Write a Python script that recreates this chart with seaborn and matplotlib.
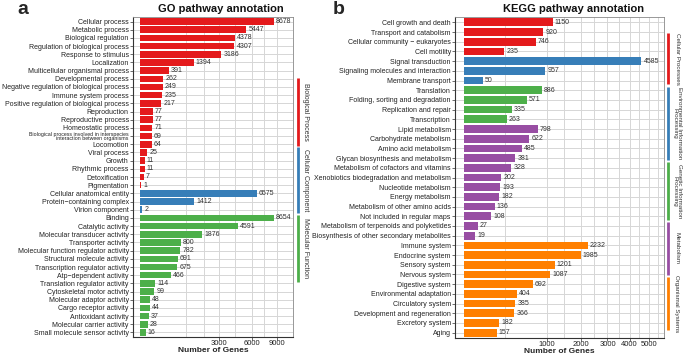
import numpy as np
import pandas as pd
import matplotlib
matplotlib.use("Agg")
import matplotlib.pyplot as plt
import seaborn as sns
from matplotlib.lines import Line2D
from matplotlib.ticker import FixedLocator

# GO annotation
go_bp_terms = ["Cellular process", "Metabolic process", "Biological regulation",
               "Regulation of biological process", "Response to stimulus", "Localization",
               "Multicellular organismal process", "Developmental process",
               "Negative regulation of biological process", "Immune system process",
               "Positive regulation of biological process", "Reproduction",
               "Reproductive process", "Homeostatic process",
               "Biological process involved in interspecies\ninteraction between organisms",
               "Locomotion", "Viral process", "Growth", "Rhythmic process",
               "Detoxification", "Pigmentation"]
go_bp_counts = [8678, 5447, 4378, 4307, 3186, 1394, 391, 262, 249, 235, 217,
                77, 77, 71, 69, 64, 25, 11, 11, 7, 1]
go_cc_terms = ["Cellular anatomical entity", "Protein\u2212containing complex", "Virion component"]
go_cc_counts = [6575, 1412, 2]
go_mf_terms = ["Binding", "Catalytic activity", "Molecular transducer activity",
               "Transporter activity", "Molecular function regulator activity",
               "Structural molecule activity", "Transcription regulator activity",
               "Atp\u2212dependent activity", "Translation regulator activity",
               "Cytoskeletal motor activity", "Molecular adaptor activity",
               "Cargo receptor activity", "Antioxidant activity",
               "Molecular carrier activity", "Small molecule sensor activity"]
go_mf_counts = [8654, 4591, 1876, 800, 782, 691, 675, 466, 114, 99, 48, 44, 37, 28, 16]
go_groups = ["Biological Process", "Cellular Component", "Molecular Function"]

# KEGG annotation
kegg_cp_terms = ["Cell growth and death", "Transport and catabolism",
                 "Cellular community \u2212 eukaryotes", "Cell motility"]
kegg_cp_counts = [1150, 920, 746, 235]
kegg_eip_terms = ["Signal transduction", "Signaling molecules and interaction", "Membrane transport"]
kegg_eip_counts = [4585, 957, 50]
kegg_gip_terms = ["Translation", "Folding, sorting and degradation",
                  "Replication and repair", "Transcription"]
kegg_gip_counts = [886, 571, 335, 263]
kegg_met_terms = ["Lipid metabolism", "Carbohydrate metabolism", "Amino acid metabolism",
                  "Glycan biosynthesis and metabolism", "Metabolism of cofactors and vitamins",
                  "Xenobiotics biodegradation and metabolism", "Nucleotide metabolism",
                  "Energy metabolism", "Metabolism of other amino acids",
                  "Not included in regular maps", "Metabolism of terpenoids and polyketides",
                  "Biosynthesis of other secondary metabolites"]
kegg_met_counts = [798, 622, 485, 381, 328, 202, 193, 182, 136, 108, 27, 19]
kegg_os_terms = ["Immune system", "Endocrine system", "Sensory system", "Nervous system",
                 "Digestive system", "Environmental adaptation", "Circulatory system",
                 "Development and regeneration", "Excretory system", "Aging"]
kegg_os_counts = [2232, 1985, 1201, 1087, 692, 404, 385, 366, 182, 157]
kegg_groups = ["Cellular Processes", "Environmental Information\nProcessing",
               "Genetic Information\nProcessing", "Metabolism", "Organismal Systems"]

go_colors = ["#E41A1C", "#377EB8", "#4DAF4A"]
kegg_colors = ["#E41A1C", "#377EB8", "#4DAF4A", "#984EA3", "#FF7F00"]


def build(terms_list, counts_list, groups):
    frames = []
    for terms, counts, g in zip(terms_list, counts_list, groups):
        frames.append(pd.DataFrame({"term": terms, "count": counts, "group": g}))
    return pd.concat(frames, ignore_index=True)


go_df = build([go_bp_terms, go_cc_terms, go_mf_terms],
              [go_bp_counts, go_cc_counts, go_mf_counts], go_groups)
kegg_df = build([kegg_cp_terms, kegg_eip_terms, kegg_gip_terms, kegg_met_terms, kegg_os_terms],
                [kegg_cp_counts, kegg_eip_counts, kegg_gip_counts, kegg_met_counts, kegg_os_counts],
                kegg_groups)


def ssqrt(x):
    return np.sign(x) * np.sqrt(np.abs(x))


def ssq(x):
    return np.sign(x) * np.square(x)


def mid(a, b):
    return ((np.sqrt(a) + np.sqrt(b)) / 2) ** 2


sns.set_theme(style="white")
plt.rcParams["font.family"] = ["Liberation Sans", "DejaVu Sans"]

W, H = 685, 357
fig = plt.figure(figsize=(W / 100, H / 100), dpi=100)


def px_ax(x0, x1, y0, y1):
    return fig.add_axes([x0 / W, 1 - y1 / H, (x1 - x0) / W, (y1 - y0) / H])


def panel(ax, df, colors, xlim, major, minor):
    sns.barplot(data=df, y="term", x="count", hue="group", palette=colors,
                orient="h", width=0.8, saturation=1, legend=False, ax=ax,
                edgecolor="none")
    ax.set_xscale("function", functions=(ssqrt, ssq))
    ax.set_xlim(*xlim)
    n = len(df)
    ax.set_ylim(n - 1 + 0.55, -0.55)
    ax.xaxis.set_major_locator(FixedLocator(major))
    ax.xaxis.set_minor_locator(FixedLocator(minor))
    ax.xaxis.set_major_formatter(matplotlib.ticker.FuncFormatter(lambda v, p: "%d" % v))
    ax.set_axisbelow(True)
    ax.grid(which="both", axis="x", color="#d6d6d6", lw=0.7)
    ax.grid(which="major", axis="y", color="#d6d6d6", lw=0.7)
    for c in ax.containers:
        ax.bar_label(c, fmt="%d", padding=1.5, fontsize=5, color="#333333")
    ax.tick_params(axis="y", left=True, length=2, width=0.5, pad=1, labelsize=5,
                   color="#333333", labelcolor="#222222")
    ax.tick_params(axis="x", which="major", bottom=True, length=2, width=0.5, pad=0.5,
                   labelsize=5.5, color="#333333", labelcolor="#222222")
    ax.tick_params(axis="x", which="minor", length=0)
    for lab in ax.get_yticklabels():
        if "\n" in lab.get_text():
            lab.set_fontsize(3.8)
            lab.set_linespacing(0.85)
    ax.set_ylabel("")
    ax.set_xlabel("Number of Genes", fontsize=6, fontweight="bold", labelpad=0)
    for s in ["left", "bottom"]:
        ax.spines[s].set_color("#333333")
        ax.spines[s].set_linewidth(0.8)
    for s in ["top", "right"]:
        ax.spines[s].set_color("#888888")
        ax.spines[s].set_linewidth(0.6)


# GO panel
ax1 = px_ax(133, 293, 17, 337)
panel(ax1, go_df, go_colors, (-24, 11300), [3000, 6000, 9000],
      [1000, 2000, mid(3000, 6000), mid(6000, 9000)])

# KEGG panel
ax2 = px_ax(455, 664, 17, 338)
kegg_major = [1000, 2000, 3000, 4000, 5000]
kegg_minor = [mid(0, 1000)] + [mid(a, a + 1000) for a in kegg_major]
panel(ax2, kegg_df, kegg_colors, (-12, 5830), kegg_major, kegg_minor)

fig.text(221 / W, 1 - 9 / H, "GO pathway annotation", ha="center", va="center",
         fontsize=8, fontweight="bold", color="#111111")
fig.text(574 / W, 1 - 9 / H, "KEGG pathway annotation", ha="center", va="center",
         fontsize=8, fontweight="bold", color="#111111")
fig.text(23 / W, 1 - 10 / H, "a", ha="center", va="center", fontsize=14, fontweight="bold")
fig.text(339 / W, 1 - 10 / H, "b", ha="center", va="center", fontsize=14, fontweight="bold")


def strips(x_line, x_text, spans, labels, colors, fs):
    for (y0, y1), lab, col in zip(spans, labels, colors):
        fig.add_artist(Line2D([x_line / W, x_line / W], [1 - y0 / H, 1 - y1 / H],
                              transform=fig.transFigure, color=col, lw=2,
                              solid_capstyle="butt"))
        fig.text(x_text / W, 1 - (y0 + y1) / 2 / H, lab, rotation=-90, ha="center",
                 va="center", fontsize=fs, color="#333333", linespacing=0.9,
                 multialignment="center")


strips(298, 305, [(78, 146), (147, 213), (215, 282)], go_groups, go_colors, 5)
strips(668, 677, [(33, 84), (87, 160), (162, 220), (222, 275), (277, 330)],
       kegg_groups, kegg_colors, 4.5)

fig.savefig("out.png", dpi=100)
